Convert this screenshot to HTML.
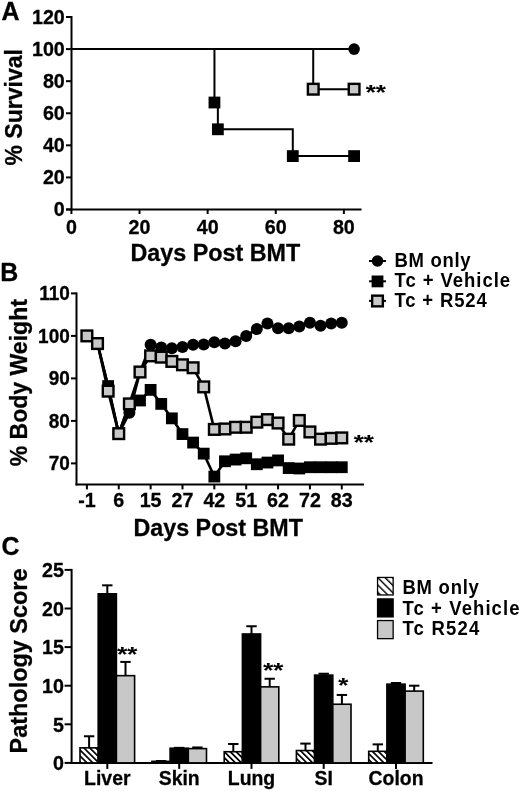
<!DOCTYPE html>
<html><head><meta charset="utf-8"><title>Figure</title>
<style>html,body{margin:0;padding:0;background:#fff}svg{display:block}text{fill:#000}</style>
</head><body>
<svg width="520" height="791" viewBox="0 0 520 791" font-family="Liberation Sans, Arial, Helvetica, sans-serif" font-weight="bold">
<rect width="520" height="791" fill="#fff"/>
<text transform="translate(1.5 20.3) scale(0.96 1)" font-size="26" text-anchor="start" stroke="#000" stroke-width="0.3" >A</text>
<line x1="71.50" y1="16.02" x2="71.50" y2="210.50" stroke="#000" stroke-width="2" />
<line x1="66.00" y1="209.50" x2="361.50" y2="209.50" stroke="#000" stroke-width="2" />
<line x1="66.00" y1="209.50" x2="71.50" y2="209.50" stroke="#000" stroke-width="2" />
<text transform="translate(64.8 216.4) scale(0.96 1)" font-size="20.5" text-anchor="end" stroke="#000" stroke-width="0.3" >0</text>
<line x1="66.00" y1="177.42" x2="71.50" y2="177.42" stroke="#000" stroke-width="2" />
<text transform="translate(64.8 184.32000000000002) scale(0.96 1)" font-size="20.5" text-anchor="end" stroke="#000" stroke-width="0.3" >20</text>
<line x1="66.00" y1="145.34" x2="71.50" y2="145.34" stroke="#000" stroke-width="2" />
<text transform="translate(64.8 152.24) scale(0.96 1)" font-size="20.5" text-anchor="end" stroke="#000" stroke-width="0.3" >40</text>
<line x1="66.00" y1="113.26" x2="71.50" y2="113.26" stroke="#000" stroke-width="2" />
<text transform="translate(64.8 120.16) scale(0.96 1)" font-size="20.5" text-anchor="end" stroke="#000" stroke-width="0.3" >60</text>
<line x1="66.00" y1="81.18" x2="71.50" y2="81.18" stroke="#000" stroke-width="2" />
<text transform="translate(64.8 88.08000000000001) scale(0.96 1)" font-size="20.5" text-anchor="end" stroke="#000" stroke-width="0.3" >80</text>
<line x1="66.00" y1="49.10" x2="71.50" y2="49.10" stroke="#000" stroke-width="2" />
<text transform="translate(64.8 55.99999999999999) scale(0.96 1)" font-size="20.5" text-anchor="end" stroke="#000" stroke-width="0.3" >100</text>
<line x1="66.00" y1="17.02" x2="71.50" y2="17.02" stroke="#000" stroke-width="2" />
<text transform="translate(64.8 23.91999999999998) scale(0.96 1)" font-size="20.5" text-anchor="end" stroke="#000" stroke-width="0.3" >120</text>
<line x1="71.40" y1="209.50" x2="71.40" y2="214.00" stroke="#000" stroke-width="2" />
<text transform="translate(71.4 234) scale(0.96 1)" font-size="20.5" text-anchor="middle" stroke="#000" stroke-width="0.3" >0</text>
<line x1="139.52" y1="209.50" x2="139.52" y2="214.00" stroke="#000" stroke-width="2" />
<text transform="translate(139.52 234) scale(0.96 1)" font-size="20.5" text-anchor="middle" stroke="#000" stroke-width="0.3" >20</text>
<line x1="207.64" y1="209.50" x2="207.64" y2="214.00" stroke="#000" stroke-width="2" />
<text transform="translate(207.64000000000001 234) scale(0.96 1)" font-size="20.5" text-anchor="middle" stroke="#000" stroke-width="0.3" >40</text>
<line x1="275.76" y1="209.50" x2="275.76" y2="214.00" stroke="#000" stroke-width="2" />
<text transform="translate(275.76 234) scale(0.96 1)" font-size="20.5" text-anchor="middle" stroke="#000" stroke-width="0.3" >60</text>
<line x1="343.88" y1="209.50" x2="343.88" y2="214.00" stroke="#000" stroke-width="2" />
<text transform="translate(343.88 234) scale(0.96 1)" font-size="20.5" text-anchor="middle" stroke="#000" stroke-width="0.3" >80</text>
<text transform="translate(215.3 261) scale(0.972 1)" font-size="24" text-anchor="middle" stroke="#000" stroke-width="0.3" >Days Post BMT</text>
<text transform="translate(22.2 107.3) rotate(-90) scale(0.96 1)" font-size="24" text-anchor="middle" stroke="#000" stroke-width="0.3" >% Survival</text>
<line x1="71.50" y1="49.10" x2="354.10" y2="49.10" stroke="#000" stroke-width="2" />
<circle cx="354.10" cy="49.10" r="5.8" fill="#000"/>
<polyline fill="none" stroke="#000" stroke-width="2" points="71.40,49.10 214.45,49.10 214.45,102.51 217.86,102.51 217.86,129.30 292.79,129.30 292.79,156.09 354.10,156.09"/>
<rect x="208.55" y="96.61" width="11.8" height="11.8" fill="#000"/>
<rect x="211.96" y="123.40" width="11.8" height="11.8" fill="#000"/>
<rect x="286.89" y="150.19" width="11.8" height="11.8" fill="#000"/>
<rect x="348.20" y="150.19" width="11.8" height="11.8" fill="#000"/>
<polyline fill="none" stroke="#000" stroke-width="2" points="313.23,49.10 313.23,89.20 354.10,89.20"/>
<rect x="307.88" y="83.85" width="10.7" height="10.7" fill="#c8c8c8" stroke="#000" stroke-width="2.4"/>
<rect x="348.75" y="83.85" width="10.7" height="10.7" fill="#c8c8c8" stroke="#000" stroke-width="2.4"/>
<text transform="translate(365.8 99.4) scale(1.32 1)" font-size="19.5" text-anchor="start" stroke="#000" stroke-width="0.1" >**</text>
<line x1="369.00" y1="261.00" x2="386.00" y2="261.00" stroke="#000" stroke-width="2" />
<circle cx="377.50" cy="261.00" r="5.8" fill="#000"/>
<text transform="translate(394.5 267) scale(0.95 1)" font-size="19.5" text-anchor="start" letter-spacing="0.72" >BM only</text>
<line x1="369.00" y1="281.30" x2="386.00" y2="281.30" stroke="#000" stroke-width="2" />
<rect x="371.60" y="275.50" width="11.8" height="11.8" fill="#000"/>
<text transform="translate(394.5 287) scale(0.95 1)" font-size="19.5" text-anchor="start" letter-spacing="1.0" >Tc + Vehicle</text>
<line x1="369.00" y1="300.90" x2="386.00" y2="300.90" stroke="#000" stroke-width="2" />
<rect x="372.15" y="295.65" width="10.7" height="10.7" fill="#c8c8c8" stroke="#000" stroke-width="2.4"/>
<text transform="translate(394.5 307) scale(0.95 1)" font-size="19.5" text-anchor="start" letter-spacing="0.87" >Tc + R524</text>
<text transform="translate(0.2 281) scale(0.96 1)" font-size="26" text-anchor="start" stroke="#000" stroke-width="0.3" >B</text>
<line x1="76.50" y1="292.40" x2="76.50" y2="485.40" stroke="#000" stroke-width="2" />
<line x1="75.50" y1="484.40" x2="364.00" y2="484.40" stroke="#000" stroke-width="2" />
<line x1="71.00" y1="463.40" x2="76.50" y2="463.40" stroke="#000" stroke-width="2" />
<text transform="translate(69.8 470.09999999999997) scale(0.96 1)" font-size="19.8" text-anchor="end" stroke="#000" stroke-width="0.3" >70</text>
<line x1="71.00" y1="420.90" x2="76.50" y2="420.90" stroke="#000" stroke-width="2" />
<text transform="translate(69.8 427.59999999999997) scale(0.96 1)" font-size="19.8" text-anchor="end" stroke="#000" stroke-width="0.3" >80</text>
<line x1="71.00" y1="378.40" x2="76.50" y2="378.40" stroke="#000" stroke-width="2" />
<text transform="translate(69.8 385.09999999999997) scale(0.96 1)" font-size="19.8" text-anchor="end" stroke="#000" stroke-width="0.3" >90</text>
<line x1="71.00" y1="335.90" x2="76.50" y2="335.90" stroke="#000" stroke-width="2" />
<text transform="translate(69.8 342.59999999999997) scale(0.96 1)" font-size="19.8" text-anchor="end" stroke="#000" stroke-width="0.3" >100</text>
<line x1="71.00" y1="293.40" x2="76.50" y2="293.40" stroke="#000" stroke-width="2" />
<text transform="translate(69.8 300.09999999999997) scale(0.96 1)" font-size="19.8" text-anchor="end" stroke="#000" stroke-width="0.3" >110</text>
<line x1="86.90" y1="484.40" x2="86.90" y2="489.40" stroke="#000" stroke-width="2" />
<text transform="translate(86.9 507) scale(0.96 1)" font-size="20.5" text-anchor="middle" stroke="#000" stroke-width="0.3" >-1</text>
<line x1="118.76" y1="484.40" x2="118.76" y2="489.40" stroke="#000" stroke-width="2" />
<text transform="translate(118.76 507) scale(0.96 1)" font-size="20.5" text-anchor="middle" stroke="#000" stroke-width="0.3" >6</text>
<line x1="150.62" y1="484.40" x2="150.62" y2="489.40" stroke="#000" stroke-width="2" />
<text transform="translate(150.62 507) scale(0.96 1)" font-size="20.5" text-anchor="middle" stroke="#000" stroke-width="0.3" >15</text>
<line x1="182.48" y1="484.40" x2="182.48" y2="489.40" stroke="#000" stroke-width="2" />
<text transform="translate(182.48000000000002 507) scale(0.96 1)" font-size="20.5" text-anchor="middle" stroke="#000" stroke-width="0.3" >27</text>
<line x1="214.34" y1="484.40" x2="214.34" y2="489.40" stroke="#000" stroke-width="2" />
<text transform="translate(214.34 507) scale(0.96 1)" font-size="20.5" text-anchor="middle" stroke="#000" stroke-width="0.3" >42</text>
<line x1="246.20" y1="484.40" x2="246.20" y2="489.40" stroke="#000" stroke-width="2" />
<text transform="translate(246.2 507) scale(0.96 1)" font-size="20.5" text-anchor="middle" stroke="#000" stroke-width="0.3" >51</text>
<line x1="278.06" y1="484.40" x2="278.06" y2="489.40" stroke="#000" stroke-width="2" />
<text transform="translate(278.06 507) scale(0.96 1)" font-size="20.5" text-anchor="middle" stroke="#000" stroke-width="0.3" >62</text>
<line x1="309.92" y1="484.40" x2="309.92" y2="489.40" stroke="#000" stroke-width="2" />
<text transform="translate(309.91999999999996 507) scale(0.96 1)" font-size="20.5" text-anchor="middle" stroke="#000" stroke-width="0.3" >72</text>
<line x1="341.78" y1="484.40" x2="341.78" y2="489.40" stroke="#000" stroke-width="2" />
<text transform="translate(341.78 507) scale(0.96 1)" font-size="20.5" text-anchor="middle" stroke="#000" stroke-width="0.3" >83</text>
<text transform="translate(218.2 535.6) scale(0.97 1)" font-size="24" text-anchor="middle" stroke="#000" stroke-width="0.3" >Days Post BMT</text>
<text transform="translate(27 382.7) rotate(-90) scale(0.96 1)" font-size="24" text-anchor="middle" stroke="#000" stroke-width="0.3" >% Body Weight</text>
<polyline fill="none" stroke="#000" stroke-width="2.6" stroke-linejoin="round" points="86.90,335.90 97.52,343.55 108.14,386.90 118.76,433.65 129.38,412.82 140.00,372.02 150.62,344.82 161.24,347.38 171.86,348.23 182.48,346.95 193.10,344.82 203.72,344.40 214.34,342.27 224.96,343.55 235.58,341.21 246.20,335.90 256.82,329.10 267.44,323.57 278.06,328.25 288.68,328.25 299.30,326.55 309.92,322.73 320.54,325.70 331.16,323.57 341.78,322.73"/>
<circle cx="86.90" cy="335.90" r="6" fill="#000"/>
<circle cx="97.52" cy="343.55" r="6" fill="#000"/>
<circle cx="108.14" cy="386.90" r="6" fill="#000"/>
<circle cx="118.76" cy="433.65" r="6" fill="#000"/>
<circle cx="129.38" cy="412.82" r="6" fill="#000"/>
<circle cx="140.00" cy="372.02" r="6" fill="#000"/>
<circle cx="150.62" cy="344.82" r="6" fill="#000"/>
<circle cx="161.24" cy="347.38" r="6" fill="#000"/>
<circle cx="171.86" cy="348.23" r="6" fill="#000"/>
<circle cx="182.48" cy="346.95" r="6" fill="#000"/>
<circle cx="193.10" cy="344.82" r="6" fill="#000"/>
<circle cx="203.72" cy="344.40" r="6" fill="#000"/>
<circle cx="214.34" cy="342.27" r="6" fill="#000"/>
<circle cx="224.96" cy="343.55" r="6" fill="#000"/>
<circle cx="235.58" cy="341.21" r="6" fill="#000"/>
<circle cx="246.20" cy="335.90" r="6" fill="#000"/>
<circle cx="256.82" cy="329.10" r="6" fill="#000"/>
<circle cx="267.44" cy="323.57" r="6" fill="#000"/>
<circle cx="278.06" cy="328.25" r="6" fill="#000"/>
<circle cx="288.68" cy="328.25" r="6" fill="#000"/>
<circle cx="299.30" cy="326.55" r="6" fill="#000"/>
<circle cx="309.92" cy="322.73" r="6" fill="#000"/>
<circle cx="320.54" cy="325.70" r="6" fill="#000"/>
<circle cx="331.16" cy="323.57" r="6" fill="#000"/>
<circle cx="341.78" cy="322.73" r="6" fill="#000"/>
<polyline fill="none" stroke="#000" stroke-width="2.6" stroke-linejoin="round" points="86.90,335.90 97.52,343.55 108.14,386.05 118.76,433.65 129.38,403.90 140.00,400.50 150.62,389.88 161.24,403.90 171.86,418.35 182.48,434.07 193.10,442.57 203.72,453.62 214.34,476.57 224.96,461.27 235.58,459.57 246.20,458.30 256.82,464.25 267.44,462.55 278.06,460.42 288.68,468.07 299.30,468.50 309.92,467.23 320.54,467.23 331.16,467.23 341.78,467.23"/>
<rect x="81.00" y="330.00" width="11.8" height="11.8" fill="#000"/>
<rect x="91.62" y="337.65" width="11.8" height="11.8" fill="#000"/>
<rect x="102.24" y="380.15" width="11.8" height="11.8" fill="#000"/>
<rect x="112.86" y="427.75" width="11.8" height="11.8" fill="#000"/>
<rect x="123.48" y="398.00" width="11.8" height="11.8" fill="#000"/>
<rect x="134.10" y="394.60" width="11.8" height="11.8" fill="#000"/>
<rect x="144.72" y="383.98" width="11.8" height="11.8" fill="#000"/>
<rect x="155.34" y="398.00" width="11.8" height="11.8" fill="#000"/>
<rect x="165.96" y="412.45" width="11.8" height="11.8" fill="#000"/>
<rect x="176.58" y="428.17" width="11.8" height="11.8" fill="#000"/>
<rect x="187.20" y="436.67" width="11.8" height="11.8" fill="#000"/>
<rect x="197.82" y="447.73" width="11.8" height="11.8" fill="#000"/>
<rect x="208.44" y="470.67" width="11.8" height="11.8" fill="#000"/>
<rect x="219.06" y="455.38" width="11.8" height="11.8" fill="#000"/>
<rect x="229.68" y="453.67" width="11.8" height="11.8" fill="#000"/>
<rect x="240.30" y="452.40" width="11.8" height="11.8" fill="#000"/>
<rect x="250.92" y="458.35" width="11.8" height="11.8" fill="#000"/>
<rect x="261.54" y="456.65" width="11.8" height="11.8" fill="#000"/>
<rect x="272.16" y="454.52" width="11.8" height="11.8" fill="#000"/>
<rect x="282.78" y="462.17" width="11.8" height="11.8" fill="#000"/>
<rect x="293.40" y="462.60" width="11.8" height="11.8" fill="#000"/>
<rect x="304.02" y="461.33" width="11.8" height="11.8" fill="#000"/>
<rect x="314.64" y="461.33" width="11.8" height="11.8" fill="#000"/>
<rect x="325.26" y="461.33" width="11.8" height="11.8" fill="#000"/>
<rect x="335.88" y="461.33" width="11.8" height="11.8" fill="#000"/>
<polyline fill="none" stroke="#000" stroke-width="2.6" stroke-linejoin="round" points="86.90,335.90 97.52,343.55 108.14,391.15 118.76,433.65 129.38,403.90 140.00,372.02 150.62,355.88 161.24,357.15 171.86,361.40 182.48,364.80 193.10,367.77 203.72,386.90 214.34,429.40 224.96,428.98 235.58,427.27 246.20,427.27 256.82,422.17 267.44,419.62 278.06,423.02 288.68,439.17 299.30,420.48 309.92,431.95 320.54,439.17 331.16,438.32 341.78,437.90"/>
<rect x="81.55" y="330.55" width="10.7" height="10.7" fill="#c8c8c8" stroke="#000" stroke-width="2.4"/>
<rect x="92.17" y="338.20" width="10.7" height="10.7" fill="#c8c8c8" stroke="#000" stroke-width="2.4"/>
<rect x="102.79" y="385.80" width="10.7" height="10.7" fill="#c8c8c8" stroke="#000" stroke-width="2.4"/>
<rect x="113.41" y="428.30" width="10.7" height="10.7" fill="#c8c8c8" stroke="#000" stroke-width="2.4"/>
<rect x="124.03" y="398.55" width="10.7" height="10.7" fill="#c8c8c8" stroke="#000" stroke-width="2.4"/>
<rect x="134.65" y="366.67" width="10.7" height="10.7" fill="#c8c8c8" stroke="#000" stroke-width="2.4"/>
<rect x="145.27" y="350.52" width="10.7" height="10.7" fill="#c8c8c8" stroke="#000" stroke-width="2.4"/>
<rect x="155.89" y="351.80" width="10.7" height="10.7" fill="#c8c8c8" stroke="#000" stroke-width="2.4"/>
<rect x="166.51" y="356.05" width="10.7" height="10.7" fill="#c8c8c8" stroke="#000" stroke-width="2.4"/>
<rect x="177.13" y="359.45" width="10.7" height="10.7" fill="#c8c8c8" stroke="#000" stroke-width="2.4"/>
<rect x="187.75" y="362.42" width="10.7" height="10.7" fill="#c8c8c8" stroke="#000" stroke-width="2.4"/>
<rect x="198.37" y="381.55" width="10.7" height="10.7" fill="#c8c8c8" stroke="#000" stroke-width="2.4"/>
<rect x="208.99" y="424.05" width="10.7" height="10.7" fill="#c8c8c8" stroke="#000" stroke-width="2.4"/>
<rect x="219.61" y="423.62" width="10.7" height="10.7" fill="#c8c8c8" stroke="#000" stroke-width="2.4"/>
<rect x="230.23" y="421.92" width="10.7" height="10.7" fill="#c8c8c8" stroke="#000" stroke-width="2.4"/>
<rect x="240.85" y="421.92" width="10.7" height="10.7" fill="#c8c8c8" stroke="#000" stroke-width="2.4"/>
<rect x="251.47" y="416.82" width="10.7" height="10.7" fill="#c8c8c8" stroke="#000" stroke-width="2.4"/>
<rect x="262.09" y="414.27" width="10.7" height="10.7" fill="#c8c8c8" stroke="#000" stroke-width="2.4"/>
<rect x="272.71" y="417.67" width="10.7" height="10.7" fill="#c8c8c8" stroke="#000" stroke-width="2.4"/>
<rect x="283.33" y="433.82" width="10.7" height="10.7" fill="#c8c8c8" stroke="#000" stroke-width="2.4"/>
<rect x="293.95" y="415.12" width="10.7" height="10.7" fill="#c8c8c8" stroke="#000" stroke-width="2.4"/>
<rect x="304.57" y="426.60" width="10.7" height="10.7" fill="#c8c8c8" stroke="#000" stroke-width="2.4"/>
<rect x="315.19" y="433.82" width="10.7" height="10.7" fill="#c8c8c8" stroke="#000" stroke-width="2.4"/>
<rect x="325.81" y="432.97" width="10.7" height="10.7" fill="#c8c8c8" stroke="#000" stroke-width="2.4"/>
<rect x="336.43" y="432.55" width="10.7" height="10.7" fill="#c8c8c8" stroke="#000" stroke-width="2.4"/>
<text transform="translate(353.8 448.5) scale(1.32 1)" font-size="19.5" text-anchor="start" stroke="#000" stroke-width="0.1" >**</text>
<text transform="translate(1.5 555) scale(0.96 1)" font-size="26" text-anchor="start" stroke="#000" stroke-width="0.3" >C</text>
<line x1="71.60" y1="568.90" x2="71.60" y2="763.90" stroke="#000" stroke-width="2" />
<line x1="70.60" y1="762.90" x2="432.50" y2="762.90" stroke="#000" stroke-width="2" />
<line x1="64.60" y1="762.90" x2="71.60" y2="762.90" stroke="#000" stroke-width="2" />
<text transform="translate(63.9 770.1) scale(0.96 1)" font-size="20.5" text-anchor="end" stroke="#000" stroke-width="0.3" >0</text>
<line x1="64.60" y1="724.30" x2="71.60" y2="724.30" stroke="#000" stroke-width="2" />
<text transform="translate(63.9 731.5) scale(0.96 1)" font-size="20.5" text-anchor="end" stroke="#000" stroke-width="0.3" >5</text>
<line x1="64.60" y1="685.70" x2="71.60" y2="685.70" stroke="#000" stroke-width="2" />
<text transform="translate(63.9 692.9) scale(0.96 1)" font-size="20.5" text-anchor="end" stroke="#000" stroke-width="0.3" >10</text>
<line x1="64.60" y1="647.10" x2="71.60" y2="647.10" stroke="#000" stroke-width="2" />
<text transform="translate(63.9 654.3000000000001) scale(0.96 1)" font-size="20.5" text-anchor="end" stroke="#000" stroke-width="0.3" >15</text>
<line x1="64.60" y1="608.50" x2="71.60" y2="608.50" stroke="#000" stroke-width="2" />
<text transform="translate(63.9 615.7) scale(0.96 1)" font-size="20.5" text-anchor="end" stroke="#000" stroke-width="0.3" >20</text>
<line x1="64.60" y1="569.90" x2="71.60" y2="569.90" stroke="#000" stroke-width="2" />
<text transform="translate(63.9 577.1) scale(0.96 1)" font-size="20.5" text-anchor="end" stroke="#000" stroke-width="0.3" >25</text>
<defs><pattern id="h" width="4.2" height="4.2" patternUnits="userSpaceOnUse" patternTransform="rotate(-45)"><rect width="4.2" height="4.2" fill="#fff"/><rect width="1.7" height="4.2" fill="#000"/></pattern></defs>
<line x1="107.30" y1="762.90" x2="107.30" y2="768.90" stroke="#000" stroke-width="2" />
<text transform="translate(107.3 784.6) scale(0.925 1)" font-size="21" text-anchor="middle" stroke="#000" stroke-width="0.3" >Liver</text>
<line x1="89.10" y1="747.85" x2="89.10" y2="736.27" stroke="#000" stroke-width="2" />
<line x1="83.90" y1="736.27" x2="94.30" y2="736.27" stroke="#000" stroke-width="2" />
<rect x="80.00" y="747.85" width="18.2" height="15.05" fill="url(#h)" stroke="#000" stroke-width="1.6"/>
<line x1="107.30" y1="593.83" x2="107.30" y2="585.34" stroke="#000" stroke-width="2" />
<line x1="102.10" y1="585.34" x2="112.50" y2="585.34" stroke="#000" stroke-width="2" />
<rect x="98.20" y="593.83" width="18.2" height="169.07" fill="#000" stroke="#000" stroke-width="1.6"/>
<line x1="125.50" y1="675.66" x2="125.50" y2="661.92" stroke="#000" stroke-width="2" />
<line x1="120.30" y1="661.92" x2="130.70" y2="661.92" stroke="#000" stroke-width="2" />
<rect x="116.40" y="675.66" width="18.2" height="87.24" fill="#c8c8c8" stroke="#000" stroke-width="1.6"/>
<line x1="179.20" y1="762.90" x2="179.20" y2="768.90" stroke="#000" stroke-width="2" />
<text transform="translate(179.2 784.6) scale(0.925 1)" font-size="21" text-anchor="middle" stroke="#000" stroke-width="0.3" >Skin</text>
<line x1="161.00" y1="761.36" x2="161.00" y2="760.97" stroke="#000" stroke-width="2" />
<line x1="155.80" y1="760.97" x2="166.20" y2="760.97" stroke="#000" stroke-width="2" />
<rect x="151.90" y="761.36" width="18.2" height="1.54" fill="url(#h)" stroke="#000" stroke-width="1.6"/>
<line x1="179.20" y1="748.23" x2="179.20" y2="747.85" stroke="#000" stroke-width="2" />
<line x1="174.00" y1="747.85" x2="184.40" y2="747.85" stroke="#000" stroke-width="2" />
<rect x="170.10" y="748.23" width="18.2" height="14.67" fill="#000" stroke="#000" stroke-width="1.6"/>
<line x1="197.40" y1="748.62" x2="197.40" y2="747.46" stroke="#000" stroke-width="2" />
<line x1="192.20" y1="747.46" x2="202.60" y2="747.46" stroke="#000" stroke-width="2" />
<rect x="188.30" y="748.62" width="18.2" height="14.28" fill="#c8c8c8" stroke="#000" stroke-width="1.6"/>
<line x1="251.50" y1="762.90" x2="251.50" y2="768.90" stroke="#000" stroke-width="2" />
<text transform="translate(251.5 784.6) scale(0.925 1)" font-size="21" text-anchor="middle" stroke="#000" stroke-width="0.3" >Lung</text>
<line x1="233.30" y1="751.71" x2="233.30" y2="743.99" stroke="#000" stroke-width="2" />
<line x1="228.10" y1="743.99" x2="238.50" y2="743.99" stroke="#000" stroke-width="2" />
<rect x="224.20" y="751.71" width="18.2" height="11.19" fill="url(#h)" stroke="#000" stroke-width="1.6"/>
<line x1="251.50" y1="633.98" x2="251.50" y2="626.26" stroke="#000" stroke-width="2" />
<line x1="246.30" y1="626.26" x2="256.70" y2="626.26" stroke="#000" stroke-width="2" />
<rect x="242.40" y="633.98" width="18.2" height="128.92" fill="#000" stroke="#000" stroke-width="1.6"/>
<line x1="269.70" y1="686.86" x2="269.70" y2="678.75" stroke="#000" stroke-width="2" />
<line x1="264.50" y1="678.75" x2="274.90" y2="678.75" stroke="#000" stroke-width="2" />
<rect x="260.60" y="686.86" width="18.2" height="76.04" fill="#c8c8c8" stroke="#000" stroke-width="1.6"/>
<line x1="323.70" y1="762.90" x2="323.70" y2="768.90" stroke="#000" stroke-width="2" />
<text transform="translate(323.7 784.6) scale(0.925 1)" font-size="21" text-anchor="middle" stroke="#000" stroke-width="0.3" >SI</text>
<line x1="305.50" y1="750.55" x2="305.50" y2="743.60" stroke="#000" stroke-width="2" />
<line x1="300.30" y1="743.60" x2="310.70" y2="743.60" stroke="#000" stroke-width="2" />
<rect x="296.40" y="750.55" width="18.2" height="12.35" fill="url(#h)" stroke="#000" stroke-width="1.6"/>
<line x1="323.70" y1="675.12" x2="323.70" y2="673.73" stroke="#000" stroke-width="2" />
<line x1="318.50" y1="673.73" x2="328.90" y2="673.73" stroke="#000" stroke-width="2" />
<rect x="314.60" y="675.12" width="18.2" height="87.78" fill="#000" stroke="#000" stroke-width="1.6"/>
<line x1="341.90" y1="704.23" x2="341.90" y2="694.96" stroke="#000" stroke-width="2" />
<line x1="336.70" y1="694.96" x2="347.10" y2="694.96" stroke="#000" stroke-width="2" />
<rect x="332.80" y="704.23" width="18.2" height="58.67" fill="#c8c8c8" stroke="#000" stroke-width="1.6"/>
<line x1="396.00" y1="762.90" x2="396.00" y2="768.90" stroke="#000" stroke-width="2" />
<text transform="translate(396 784.6) scale(0.925 1)" font-size="21" text-anchor="middle" stroke="#000" stroke-width="0.3" >Colon</text>
<line x1="377.80" y1="751.32" x2="377.80" y2="744.37" stroke="#000" stroke-width="2" />
<line x1="372.60" y1="744.37" x2="383.00" y2="744.37" stroke="#000" stroke-width="2" />
<rect x="368.70" y="751.32" width="18.2" height="11.58" fill="url(#h)" stroke="#000" stroke-width="1.6"/>
<line x1="396.00" y1="684.16" x2="396.00" y2="683.00" stroke="#000" stroke-width="2" />
<line x1="390.80" y1="683.00" x2="401.20" y2="683.00" stroke="#000" stroke-width="2" />
<rect x="386.90" y="684.16" width="18.2" height="78.74" fill="#000" stroke="#000" stroke-width="1.6"/>
<line x1="414.20" y1="691.10" x2="414.20" y2="685.70" stroke="#000" stroke-width="2" />
<line x1="409.00" y1="685.70" x2="419.40" y2="685.70" stroke="#000" stroke-width="2" />
<rect x="405.10" y="691.10" width="18.2" height="71.80" fill="#c8c8c8" stroke="#000" stroke-width="1.6"/>
<text transform="translate(117.3 661.3) scale(1.32 1)" font-size="19.5" text-anchor="start" stroke="#000" stroke-width="0.1" >**</text>
<text transform="translate(263.3 677.3) scale(1.32 1)" font-size="19.5" text-anchor="start" stroke="#000" stroke-width="0.1" >**</text>
<text transform="translate(338.3 692.3) scale(1.32 1)" font-size="19.5" text-anchor="start" stroke="#000" stroke-width="0.1" >*</text>
<defs><pattern id="h2" width="5.2" height="5.2" patternUnits="userSpaceOnUse" patternTransform="translate(377.55 577.45) rotate(-45) translate(-0.7 0)"><rect width="5.2" height="5.2" fill="#fff"/><rect width="1.4" height="5.2" fill="#000"/></pattern></defs>
<rect x="377.55" y="577.45" width="15.6" height="17.5" fill="url(#h2)" stroke="#000" stroke-width="1.3"/>
<rect x="377.55" y="598.9" width="15.6" height="18" fill="#000" stroke="#000" stroke-width="1.3"/>
<rect x="377.55" y="620.55" width="15.6" height="18.1" fill="#c8c8c8" stroke="#000" stroke-width="1.3"/>
<text transform="translate(402.5 593.6) scale(0.95 1)" font-size="19.5" text-anchor="start" letter-spacing="0.77" >BM only</text>
<text transform="translate(402.5 614.6) scale(0.95 1)" font-size="19.5" text-anchor="start" letter-spacing="1.14" >Tc + Vehicle</text>
<text transform="translate(402.5 635.2) scale(0.95 1)" font-size="19.5" text-anchor="start" letter-spacing="1.25" >Tc R524</text>
<text transform="translate(27.3 661) rotate(-90) scale(0.965 1)" font-size="24.3" text-anchor="middle" stroke="#000" stroke-width="0.3" >Pathology Score</text>
</svg>
</body></html>
